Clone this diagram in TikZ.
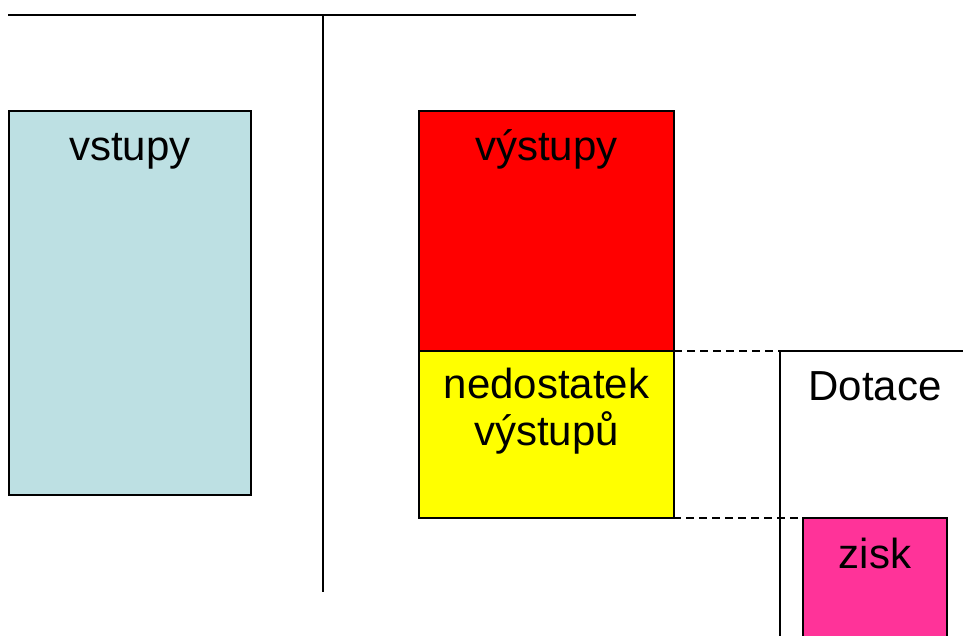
\documentclass[tikz,border=0pt]{standalone}
\usepackage{fontspec}
\setmainfont{Liberation Sans}
\definecolor{inBlue}{HTML}{BDE0E3}
\definecolor{outRed}{HTML}{FF0000}
\definecolor{lackYellow}{HTML}{FFFF00}
\definecolor{gainPink}{HTML}{FF3399}
\usetikzlibrary{calc, positioning}
\tikzset{
  box/.style={draw, line width=1.5pt, anchor=north west, inner sep=0pt, outer sep=0pt},
  lbl/.style={font=\fontsize{42}{47}\selectfont, anchor=base, align=center, inner sep=0pt},
  gap/.style={line width=1.5pt, dash pattern=on 8pt off 5pt}
}
\begin{document}
\begin{tikzpicture}[x=1pt, y=-1pt]
  \useasboundingbox (0,0) rectangle (963,635);
  % T-account
  \draw[line width=2pt] (8,15) -- (636,15);
  \draw[line width=1.5pt] (323,15) -- (323,592);
  % left side
  \node[box, fill=inBlue, minimum width=242, minimum height=384] (vstupy) at (9,111) {};
  \node[lbl] at ($(vstupy.north)+(0,49)$) {vstupy};
  % right side
  \node[box, fill=outRed, minimum width=255, minimum height=240] (vystupy) at (419,111) {};
  \node[lbl] at ($(vystupy.north)+(0,49)$) {výstupy};
  \node[box, fill=lackYellow, minimum width=255, minimum height=167] (nedostatek) at (419,351) {};
  \node[lbl] at ($(nedostatek.north)+(0,94)$) {nedostatek\\výstupů};
  % subsidy and profit
  \node[box, minimum width=300, minimum height=400] (dotace) at (780,351) {};
  \node[lbl] at (875,400) {Dotace};
  \node[box, fill=gainPink, minimum width=144, minimum height=200] (zisk) at (803,518) {};
  \node[lbl] at ($(zisk.north)+(0,50)$) {zisk};
  % dashed guides
  \coordinate (gapstart) at (634,518);
  \draw[gap] (vystupy.south east) -- (dotace.north west);
  \draw[gap] (gapstart) -- (zisk.north west);
\end{tikzpicture}
\end{document}
